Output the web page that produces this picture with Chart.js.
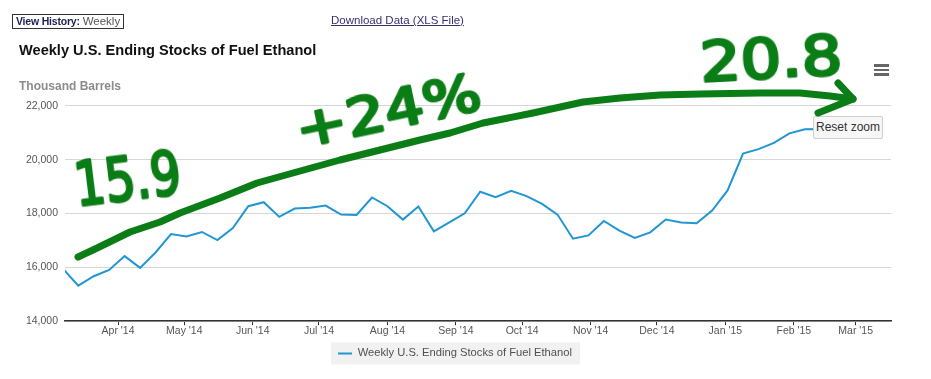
<!DOCTYPE html>
<html>
<head>
<meta charset="utf-8">
<script src="https://cdn.jsdelivr.net/npm/chart.js@4.4.1/dist/chart.umd.min.js"></script>
<style>
  html, body { margin:0; padding:0; background:#fff; }
  #wrap { position:relative; width:931px; height:379px; overflow:hidden; font-family:"Liberation Sans", Arial, sans-serif; }
  #c { position:absolute; left:0; top:0; }
  .hist { position:absolute; left:12px; top:14px; width:107px; height:13px; border:1px solid #333; font-size:10.5px; line-height:13px; padding-left:3px; color:#555; white-space:nowrap; overflow:hidden; }
  .hist b { color:#1c2050; letter-spacing:-0.2px; }
  .dl { position:absolute; left:331px; top:14px; font-size:11.5px; color:#3a2f6e; text-decoration:underline; white-space:nowrap; }
  .reset { position:absolute; left:813px; top:116px; width:68px; height:21px; border:1px solid #cfcfcf; border-radius:2px; background:#f7f7f7; font-size:12px; line-height:21px; text-align:center; color:#333; box-sizing:content-box; }
  .menu { position:absolute; left:874px; top:64px; width:15px; }
  .menu div { height:2.5px; background:#666; margin-bottom:2px; }
  svg.ann { position:absolute; left:0; top:0; pointer-events:none; }
</style>
</head>
<body>
<div id="wrap">
  <canvas id="c" width="931" height="379"></canvas>
  <div class="hist"><b>View History:</b> <span style="font-size:11.5px">Weekly</span></div>
  <div class="dl">Download Data (XLS File)</div>
  <div class="menu"><div></div><div></div><div></div></div>
  <div class="reset">Reset zoom</div>
  <svg class="ann" width="931" height="379">
    <g stroke="#0b7d16" fill="none" stroke-width="7" stroke-linecap="round" stroke-linejoin="round">
      <path d="M78,257 L93,250 L130,232 L160,222 L180,213 L220,198 L257,183 L293,173 L340,160 L380,150 L420,140 L450,133 L483,123 L533,113 L583,102 L620,98 L660,95 L700,94 L760,93 L800,93 L830,96 L853,99"/>
      <path d="M838,83 L853,99 L818,113"/>
    </g>
    <g fill="#0b7d16" stroke="#0b7d16" stroke-width="3" stroke-linejoin="round" font-family="DejaVu Sans, sans-serif">
      <text transform="translate(77,206) rotate(-7) scale(0.8,1)" font-size="60">15.9</text>
      <text transform="translate(300,148) rotate(-12) scale(1.18,1)" font-size="52">+24%</text>
      <text transform="translate(701,81) rotate(-3) scale(1.14,1)" font-size="56">20.8</text>
    </g>
  </svg>
</div>
<script>
// ---- data ----
const weekDates = [
  '2014-03-07','2014-03-14','2014-03-21','2014-03-28','2014-04-04','2014-04-11','2014-04-18','2014-04-25',
  '2014-05-02','2014-05-09','2014-05-16','2014-05-23','2014-05-30','2014-06-06','2014-06-13','2014-06-20',
  '2014-06-27','2014-07-04','2014-07-11','2014-07-18','2014-07-25','2014-08-01','2014-08-08','2014-08-15',
  '2014-08-22','2014-08-29','2014-09-05','2014-09-12','2014-09-19','2014-09-26','2014-10-03','2014-10-10',
  '2014-10-17','2014-10-24','2014-10-31','2014-11-07','2014-11-14','2014-11-21','2014-11-28','2014-12-05',
  '2014-12-12','2014-12-19','2014-12-26','2015-01-02','2015-01-09','2015-01-16','2015-01-23','2015-01-30',
  '2015-02-06','2015-02-13','2015-02-20','2015-02-27','2015-03-06','2015-03-13'
];
const stocks = [
  15960, 15320, 15671, 15906, 16419, 15981, 16553, 17241,
  17151, 17316, 17017, 17465, 18273, 18422, 17876, 18187,
  18213, 18299, 17962, 17951, 18598, 18273, 17776, 18262,
  17338, 17675, 18011, 18811, 18609, 18848, 18647, 18362,
  17962, 17065, 17189, 17727, 17364, 17092, 17301, 17776,
  17664, 17637, 18112, 18860, 20232, 20393, 20628, 20979,
  21129, 21140, 21100, 21000, 20900, 20815
];
const monthTickDates = ['2014-04-01','2014-05-01','2014-06-01','2014-07-01','2014-08-01','2014-09-01',
  '2014-10-01','2014-11-01','2014-12-01','2015-01-01','2015-02-01','2015-03-01'];
const monthTickLabels = ["Apr '14","May '14","Jun '14","Jul '14","Aug '14","Sep '14",
  "Oct '14","Nov '14","Dec '14","Jan '15","Feb '15","Mar '15"];
const xRangeStart = '2014-03-08';
const xRangeEnd = '2015-03-17';
const yMin = 14000, yMax = 22000, yStep = 2000;
const seriesName = 'Weekly U.S. Ending Stocks of Fuel Ethanol';
const chartTitle = 'Weekly U.S. Ending Stocks of Fuel Ethanol';
const unitLabel = 'Thousand Barrels';

const toDay = s => Date.parse(s + 'T00:00:00Z') / 86400000;
const FONT = '"Liberation Sans", Arial, sans-serif';
const lineBlue = '#2196d3';

const legendBg = {
  id: 'legendBg',
  beforeDraw(chart) {
    const lg = chart.legend;
    if (!lg || !lg.legendHitBoxes || !lg.legendHitBoxes.length) return;
    const hb = lg.legendHitBoxes[0];
    const cy = hb.top + hb.height / 2;
    const ctx = chart.ctx;
    ctx.save();
    ctx.fillStyle = '#f1f1f1';
    ctx.fillRect(hb.left - 7, cy - 11, hb.width + 15, 22);
    ctx.restore();
  }
};

new Chart(document.getElementById('c'), {
  type: 'line',
  data: {
    datasets: [{
      label: seriesName,
      data: weekDates.map((d, i) => ({ x: toDay(d), y: stocks[i] })),
      borderColor: lineBlue,
      backgroundColor: lineBlue,
      borderWidth: 2,
      pointRadius: 0,
      tension: 0,
      clip: 0
    }]
  },
  options: {
    responsive: false,
    animation: false,
    devicePixelRatio: 1,
    layout: { padding: { left: 19, right: 40, top: 0, bottom: 10 } },
    plugins: {
      title: {
        display: true, text: chartTitle, align: 'start', color: '#111',
        font: { family: FONT, size: 14.6, weight: 'bold' },
        padding: { top: 42, bottom: 0 }
      },
      subtitle: {
        display: true, text: unitLabel, align: 'start', color: '#8c8c8c',
        font: { family: FONT, size: 12, weight: 'bold' },
        padding: { top: 20, bottom: 12 }
      },
      legend: {
        position: 'bottom',
        labels: {
          boxWidth: 14, boxHeight: 2, color: '#505050',
          font: { family: FONT, size: 11.2 }, padding: 10,
          generateLabels: chart => Chart.defaults.plugins.legend.labels.generateLabels(chart)
            .map(l => Object.assign(l, { lineWidth: 0 }))
        }
      },
      tooltip: { enabled: false }
    },
    scales: {
      x: {
        type: 'linear',
        min: toDay(xRangeStart),
        max: toDay(xRangeEnd),
        afterBuildTicks: axis => { axis.ticks = monthTickDates.map(d => ({ value: toDay(d) })); },
        ticks: {
          autoSkip: false, maxRotation: 0, minRotation: 0, padding: 0,
          color: '#555', font: { family: FONT, size: 10.5 },
          callback: (v, i) => monthTickLabels[i]
        },
        grid: { drawOnChartArea: false, drawTicks: true, tickLength: 4, color: '#333', lineWidth: 1 },
        border: { display: true, color: '#333', width: 1.5 }
      },
      y: {
        min: yMin, max: yMax,
        afterFit: s => { s.width = 46; },
        ticks: {
          stepSize: yStep, padding: 7, color: '#555',
          font: { family: FONT, size: 10.5 },
          callback: v => v.toLocaleString('en-US')
        },
        grid: { color: '#d6d6d6', drawTicks: false },
        border: { display: false }
      }
    }
  },
  plugins: [legendBg]
});
</script>
</body>
</html>
